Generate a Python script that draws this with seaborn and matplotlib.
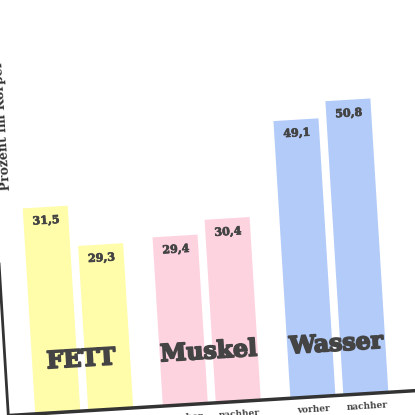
import matplotlib
matplotlib.use('Agg')
import matplotlib.pyplot as plt
import matplotlib.patheffects as pe
from matplotlib.transforms import Affine2D
import seaborn as sns
import pandas as pd

categories = ['FETT', 'Muskel', 'Wasser']
zeitpunkte = ['vorher', 'nachher']
# bar heights as drawn in the picture (the printed numbers don't quite match them)
fett = [35.8, 28.7]
muskel = [29.4, 31.9]
wasser = [48.3, 51.2]
value_labels = [['31,5', '29,3'], ['29,4', '30,4'], ['49,1', '50,8']]
bar_colors = ['#fffcaa', '#fdd3e0', '#b3cbf8']

df = pd.DataFrame({
    'Kategorie': [c for c in categories for _ in zeitpunkte],
    'Zeit': zeitpunkte * len(categories),
    'Prozent': fett + muskel + wasser,
})

sns.set_style('white')
plt.rcParams['font.family'] = ['DejaVu Serif']
text_color = '#444444'

fig = plt.figure(figsize=(4.15, 4.15), dpi=100)
ax = fig.add_axes([-4 / 415, 12 / 415, 444 / 415, 345 / 415])
sns.barplot(data=df, x='Kategorie', y='Prozent', hue='Zeit', order=categories,
            hue_order=zeitpunkte, width=0.83, gap=0.15, saturation=1,
            legend=False, ax=ax)
ax.set_xlim(-0.595, 2.879)
ax.set_ylim(0, 60)
ax.axis('off')

# the whole chart is photographed slightly tilted
angle = 3.5
rot = Affine2D().rotate_deg_around(207.5, 207.5, angle)
tilt = ax.transData + rot

# heavier look for the slab-serif lettering
heavy = [pe.withStroke(linewidth=1.3, foreground=text_color)]
semi = [pe.withStroke(linewidth=0.5, foreground=text_color)]

for j, container in enumerate(ax.containers):
    for i, bar in enumerate(container):
        bar.set_facecolor(bar_colors[i])
        bar.set_edgecolor('none')
        bar.set_transform(tilt)
        bar.set_clip_on(False)
        x = bar.get_x() + bar.get_width() / 2
        ax.text(x, bar.get_height() - 2.3, value_labels[i][j], transform=tilt,
                rotation=angle, rotation_mode='anchor', ha='center', va='center',
                fontsize=8, fontweight='bold', color=text_color, clip_on=False,
                path_effects=semi)
        ax.text(x, -2.2, zeitpunkte[j], transform=tilt,
                rotation=angle, rotation_mode='anchor', ha='center', va='center',
                fontsize=6.5, fontweight='bold', color=text_color, clip_on=False)

for i, cat in enumerate(categories):
    ax.text(i, 9, cat, transform=tilt, rotation=angle, rotation_mode='anchor',
            ha='center', va='center', fontsize=17, fontweight='bold',
            color=text_color, clip_on=False, path_effects=heavy)

ax.text(-0.509, 50.4, 'Prozent im Körper', transform=tilt, rotation=90 + angle,
        rotation_mode='anchor', ha='center', va='center', fontsize=9,
        fontweight='bold', color='#333333', clip_on=False)

base = ax.axhline(0, color='#333333', lw=2.5)
base.set_transform(base.get_transform() + rot)
base.set_clip_on(False)
left = ax.axvline(-0.595, color='#333333', lw=2)
left.set_transform(left.get_transform() + rot)
left.set_clip_on(False)

fig.savefig('out.png', dpi=100)
plt.close(fig)
